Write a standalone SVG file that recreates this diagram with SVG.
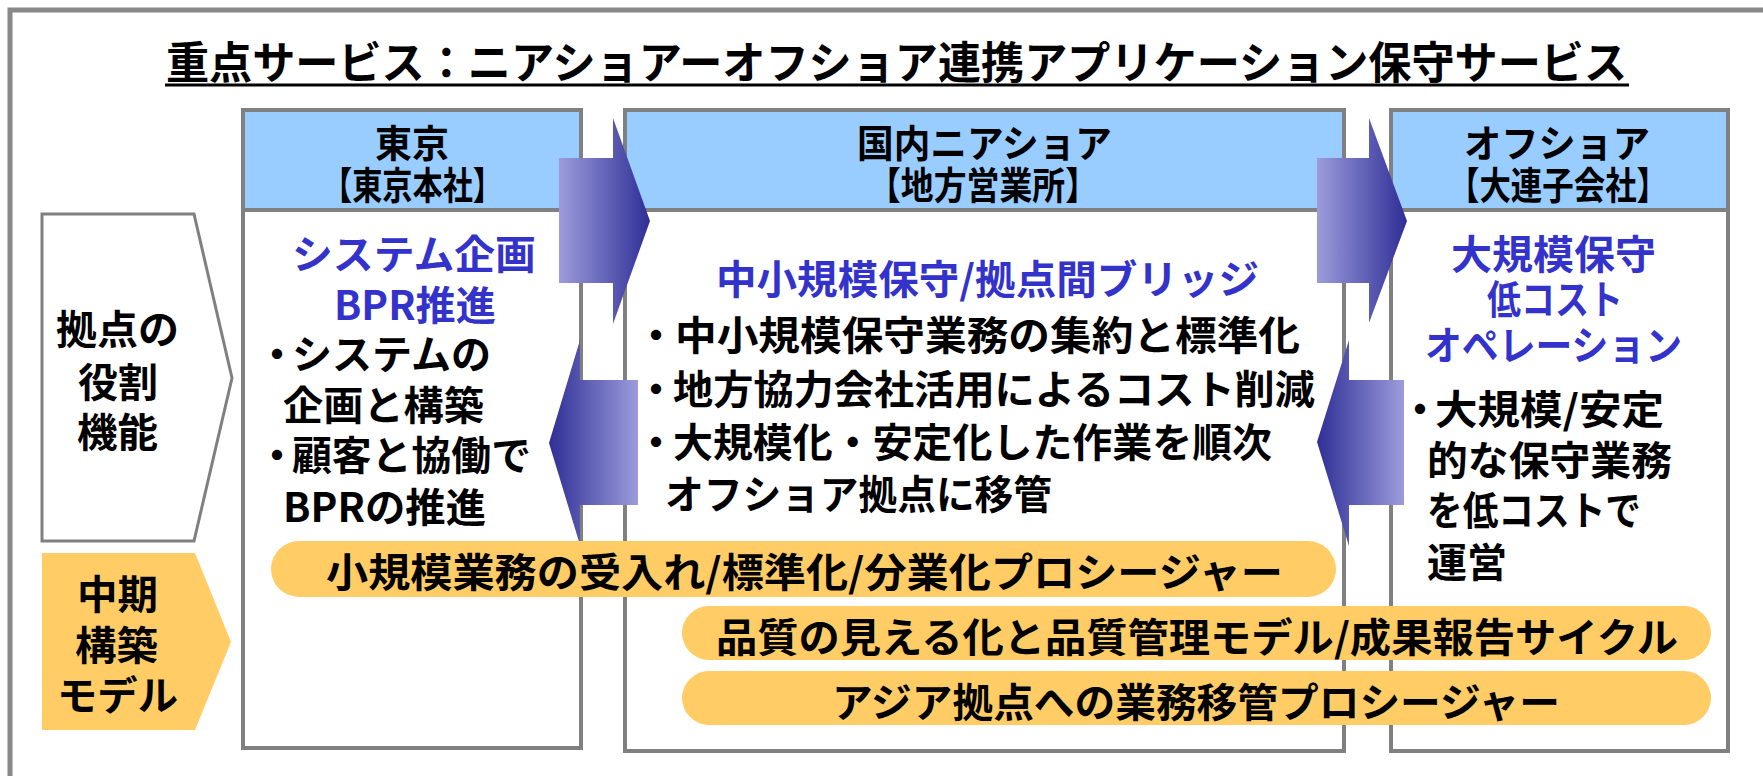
<svg xmlns="http://www.w3.org/2000/svg" width="1763" height="776" viewBox="0 0 1763 776">
<style>
text{font-family:"Noto Sans CJK JP","Noto Sans",sans-serif;font-weight:700;}
.k{fill:#000;font-size:40px}
.b{fill:#3333CC;font-size:40px}
.h{fill:#000;font-size:38px}
.box{fill:#fff;stroke:#808080;stroke-width:4}
.hdr{fill:#99CCFF;stroke:#808080;stroke-width:4}
.bar{fill:#FFCC66}
</style>
<defs>
<linearGradient id="gR" x1="0" y1="0" x2="1" y2="0">
<stop offset="0" stop-color="#9C9CDC"/>
<stop offset="1" stop-color="#2E2E96"/>
</linearGradient>
<linearGradient id="gL" x1="0" y1="0" x2="1" y2="0">
<stop offset="0" stop-color="#2E2E96"/>
<stop offset="1" stop-color="#9C9CDC"/>
</linearGradient>
</defs>
<rect x="0" y="0" width="1763" height="776" fill="#fff"/>
<rect x="10" y="10" width="1800" height="800" fill="none" stroke="#888" stroke-width="5"/>
<g id="title">
<text x="166" y="79" style="font-size:44px" textLength="1461" lengthAdjust="spacingAndGlyphs">重点サービス：ニアショアーオフショア連携アプリケーション保守サービス</text>
<line x1="165" y1="85" x2="1629" y2="85" stroke="#000" stroke-width="3"/>
</g>
<g id="role-label">
<polygon points="42,214 194,214 232,378 194,541 42,541" fill="#fff" stroke="#808080" stroke-width="3"/>
<text class="k" x="56" y="344" textLength="123" lengthAdjust="spacingAndGlyphs">拠点の</text>
<text class="k" x="78" y="397" textLength="80" lengthAdjust="spacingAndGlyphs">役割</text>
<text class="k" x="77" y="447" textLength="81" lengthAdjust="spacingAndGlyphs">機能</text>
</g>
<g id="model-label">
<polygon points="42,553 195,553 231,642 195,730 42,730" fill="#FFCC66"/>
<text class="k" x="77" y="609" textLength="81" lengthAdjust="spacingAndGlyphs">中期</text>
<text class="k" x="75" y="660" textLength="83" lengthAdjust="spacingAndGlyphs">構築</text>
<text class="k" x="57" y="710" textLength="121" lengthAdjust="spacingAndGlyphs">モデル</text>
</g>
<g id="tokyo">
<rect class="box" x="243" y="110" width="338" height="638"/>
<rect class="hdr" x="243" y="110" width="338" height="100"/>
<text class="h" x="375" y="157" textLength="74" lengthAdjust="spacingAndGlyphs">東京</text>
<text class="h" x="322" y="199" textLength="181" lengthAdjust="spacingAndGlyphs">【東京本社】</text>
<text class="b" x="292" y="269" textLength="244" lengthAdjust="spacingAndGlyphs">システム企画</text>
<text class="b" x="334" y="320" textLength="162" lengthAdjust="spacingAndGlyphs">BPR推進</text>
<text class="k" y="369"><tspan x="257">・</tspan><tspan x="292" textLength="199" lengthAdjust="spacingAndGlyphs">システムの</tspan></text>
<text class="k" x="283" y="420" textLength="201" lengthAdjust="spacingAndGlyphs">企画と構築</text>
<text class="k" y="470"><tspan x="257">・</tspan><tspan x="292" textLength="239" lengthAdjust="spacingAndGlyphs">顧客と協働で</tspan></text>
<text class="k" x="283" y="522" textLength="203" lengthAdjust="spacingAndGlyphs">BPRの推進</text>
</g>
<g id="nearshore">
<rect class="box" x="625" y="110" width="719" height="641"/>
<rect class="hdr" x="625" y="110" width="719" height="100"/>
<text class="h" x="857" y="157" textLength="255" lengthAdjust="spacingAndGlyphs">国内ニアショア</text>
<text class="h" x="868" y="199" textLength="230" lengthAdjust="spacingAndGlyphs">【地方営業所】</text>
<text class="b" x="716" y="294" textLength="543" lengthAdjust="spacingAndGlyphs">中小規模保守/拠点間ブリッジ</text>
<text class="k" y="350"><tspan x="636">・</tspan><tspan x="675" textLength="625" lengthAdjust="spacingAndGlyphs">中小規模保守業務の集約と標準化</tspan></text>
<text class="k" y="404"><tspan x="636">・</tspan><tspan x="673" textLength="642" lengthAdjust="spacingAndGlyphs">地方協力会社活用によるコスト削減</tspan></text>
<text class="k" y="457"><tspan x="636">・</tspan><tspan x="673" textLength="599" lengthAdjust="spacingAndGlyphs">大規模化・安定化した作業を順次</tspan></text>
<text class="k" x="665" y="509" textLength="387" lengthAdjust="spacingAndGlyphs">オフショア拠点に移管</text>
</g>
<g id="offshore">
<rect class="box" x="1391" y="110" width="337" height="641"/>
<rect class="hdr" x="1391" y="110" width="337" height="100"/>
<text class="h" x="1464" y="157" textLength="186" lengthAdjust="spacingAndGlyphs">オフショア</text>
<text class="h" x="1448" y="199" textLength="220" lengthAdjust="spacingAndGlyphs">【大連子会社】</text>
<text class="b" x="1451" y="269" textLength="205" lengthAdjust="spacingAndGlyphs">大規模保守</text>
<text class="b" x="1487" y="314" textLength="136" lengthAdjust="spacingAndGlyphs">低コスト</text>
<text class="b" x="1425" y="360" textLength="257" lengthAdjust="spacingAndGlyphs">オペレーション</text>
<text class="k" y="424"><tspan x="1400">・</tspan><tspan x="1435" textLength="229" lengthAdjust="spacingAndGlyphs">大規模/安定</tspan></text>
<text class="k" x="1427" y="475" textLength="245" lengthAdjust="spacingAndGlyphs">的な保守業務</text>
<text class="k" x="1427" y="525" textLength="214" lengthAdjust="spacingAndGlyphs">を低コストで</text>
<text class="k" x="1427" y="577" textLength="80" lengthAdjust="spacingAndGlyphs">運営</text>
</g>
<g id="connectors">
<polygon id="arrow-tokyo-nearshore" points="559,158 613,158 613,118 650,221 613,324 613,283 559,283" fill="url(#gR)"/>
<polygon id="arrow-nearshore-offshore" points="1317,158 1369,158 1369,118 1407,221 1369,323 1369,283 1317,283" fill="url(#gR)"/>
<polygon id="arrow-nearshore-tokyo" points="638,380 580,380 580,340 549,443 580,545 580,505 638,505" fill="url(#gL)"/>
<polygon id="arrow-offshore-nearshore" points="1404,380 1349,380 1349,340 1317,442 1349,546 1349,505 1404,505" fill="url(#gL)"/>
</g>
<g id="bar1">
<rect class="bar" x="271" y="541" width="1065" height="56" rx="28"/>
<text class="k" x="326" y="587" textLength="957" lengthAdjust="spacingAndGlyphs">小規模業務の受入れ/標準化/分業化プロシージャー</text>
</g>
<g id="bar2">
<rect class="bar" x="682" y="606" width="1029" height="54" rx="27"/>
<text class="k" x="716" y="652" textLength="962" lengthAdjust="spacingAndGlyphs">品質の見える化と品質管理モデル/成果報告サイクル</text>
</g>
<g id="bar3">
<rect class="bar" x="682" y="671" width="1029" height="54" rx="27"/>
<text class="k" x="832" y="717" textLength="728" lengthAdjust="spacingAndGlyphs">アジア拠点への業務移管プロシージャー</text>
</g>
</svg>
